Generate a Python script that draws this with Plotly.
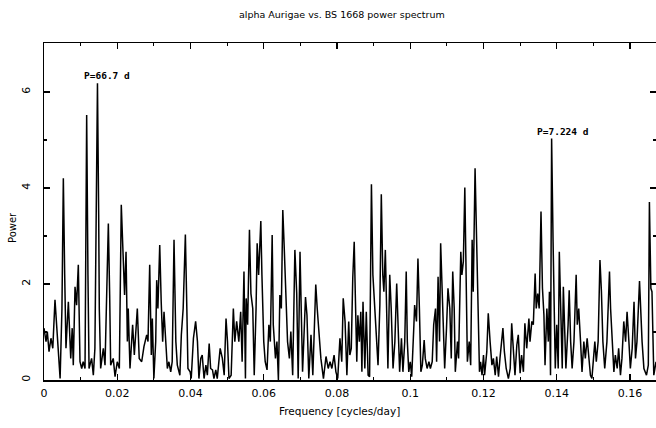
import plotly.graph_objects as go

# Frequency (cycles/day) and power values
freq = [
    0.0000, 0.00055, 0.0009, 0.00137, 0.0019, 0.0024, 0.0030, 0.0036, 0.0044, 0.0049,
    0.00528, 0.00565, 0.0060, 0.00665, 0.0073, 0.0077, 0.0080, 0.00847, 0.0089, 0.00937,
    0.00983, 0.0103, 0.0107, 0.0112, 0.01165, 0.0120, 0.0123, 0.0130, 0.01347, 0.0139,
    0.0146, 0.01493, 0.0151, 0.01547, 0.0162, 0.01666, 0.01757, 0.01793, 0.0182, 0.0189,
    0.0194, 0.0200, 0.02057, 0.0211, 0.02166, 0.0220, 0.0224, 0.02276, 0.0230, 0.02348,
    0.0242, 0.02466, 0.02548, 0.0260, 0.02667, 0.0273,
    0.02804, 0.0284, 0.02886, 0.0293, 0.02958, 0.0300, 0.0305, 0.03077, 0.0311, 0.0316,
    0.0320, 0.0324, 0.03277, 0.0332, 0.03368, 0.0341, 0.0346, 0.0350, 0.0355, 0.0360,
    0.0364, 0.0371, 0.0375, 0.0380, 0.0386, 0.0390, 0.0393, 0.0399, 0.0402, 0.0408,
    0.0414, 0.0419, 0.0423, 0.0428, 0.0432, 0.0437, 0.0442, 0.0446, 0.0451, 0.0455,
    0.0460, 0.0464, 0.0469, 0.0473, 0.0481, 0.0487, 0.0492, 0.0497, 0.0501, 0.0505,
    0.0511, 0.0517, 0.0521, 0.0526, 0.0532, 0.0537, 0.0541, 0.0546, 0.0550,
    0.0552, 0.0556, 0.0561, 0.0565, 0.0570, 0.0574, 0.0579, 0.0582, 0.0586, 0.0592,
    0.0595, 0.0600, 0.0604, 0.0609, 0.0614, 0.0618, 0.0623, 0.0626, 0.0632, 0.0636,
    0.0640, 0.0644, 0.0648, 0.0652, 0.0656, 0.0661, 0.0665, 0.0670, 0.0674, 0.0679,
    0.0685, 0.0690, 0.0694, 0.0699, 0.0703, 0.0706, 0.0714, 0.0718, 0.0723, 0.0729,
    0.0734, 0.0742, 0.0746, 0.0752, 0.0756, 0.0763, 0.0770, 0.0776, 0.0781, 0.0786,
    0.0792, 0.0797, 0.0802, 0.0808, 0.0813, 0.0817, 0.0822, 0.0827, 0.0832,
    0.0835, 0.0839, 0.0843, 0.0847, 0.0850, 0.0854, 0.0857, 0.0861, 0.0865, 0.0868,
    0.0871, 0.0876, 0.0880, 0.0885, 0.0889, 0.0894, 0.0898, 0.0903, 0.0907, 0.0912,
    0.0917, 0.0921, 0.0925, 0.0928, 0.0932, 0.0936, 0.0939, 0.0944, 0.0948, 0.0953,
    0.0958, 0.0963, 0.0967, 0.0971, 0.0976, 0.0980, 0.0985, 0.0989, 0.0992, 0.0996,
    0.1000, 0.1004, 0.1010, 0.1012, 0.1017, 0.1021, 0.1025, 0.1029, 0.1033, 0.1038,
    0.1041, 0.1046, 0.1051, 0.1055, 0.1060, 0.1064, 0.1069, 0.1072, 0.1076, 0.1080,
    0.1083, 0.1087, 0.1090, 0.1094, 0.1099, 0.1103, 0.1108, 0.1112,
    0.1116, 0.1120, 0.1123, 0.1129, 0.1132, 0.1138, 0.1141, 0.1145, 0.1149, 0.1152,
    0.1156, 0.1161, 0.1165, 0.1169, 0.1172, 0.1177, 0.1181, 0.1184, 0.1189, 0.1192,
    0.1196, 0.1200, 0.1203, 0.1209, 0.1213, 0.1218, 0.1223, 0.1227, 0.1232, 0.1236,
    0.1241, 0.1245, 0.1253, 0.1257, 0.1262, 0.1268, 0.1273, 0.1277, 0.1282, 0.1286,
    0.1291, 0.1295, 0.1300, 0.1304, 0.1309, 0.1313, 0.1318, 0.1324, 0.1327, 0.1332,
    0.1336, 0.1341, 0.1344, 0.1348, 0.1352, 0.1357, 0.1361, 0.1365, 0.1368, 0.1373,
    0.1377, 0.1380, 0.1383, 0.1386, 0.1390,
    0.1393, 0.1396, 0.1400, 0.1404, 0.1407, 0.1411, 0.1415, 0.1418, 0.1422, 0.1425,
    0.1431, 0.1434, 0.1438, 0.1442, 0.1447, 0.1453, 0.1456, 0.1460, 0.1465, 0.1469,
    0.1474, 0.1478, 0.1483, 0.1487, 0.1492, 0.1496, 0.1504, 0.1508, 0.1513, 0.1518,
    0.1522, 0.1526, 0.1531, 0.1537, 0.1544, 0.1547, 0.1551, 0.1556, 0.1560, 0.1565,
    0.1569, 0.1574, 0.1578, 0.1583, 0.1588, 0.1592, 0.1597, 0.1601, 0.1606, 0.1611,
    0.1615, 0.1619, 0.1626, 0.1629, 0.1633, 0.1638, 0.1645, 0.1650, 0.1653, 0.1657,
    0.1660, 0.1665, 0.1671,
]

power = [
    1.08, 0.80, 1.01, 0.59, 0.87, 0.66, 1.67, 0.94, 0.03, 1.49,
    4.20, 2.19, 0.66, 1.63, 0.45, 1.08, 0.31, 1.94, 1.56, 2.40,
    0.38, 0.24, 0.38, 0.24, 5.52, 2.19, 0.24, 0.45, 0.10, 0.66,
    6.18, 3.44, 1.49, 0.24, 0.66, 0.31, 3.26, 1.77, 0.31, 0.45,
    0.07, 0.38, 0.24, 3.65, 2.60, 1.77, 2.67, 0.80, 1.49, 0.24,
    1.15, 0.52, 1.49, 0.45, 0.38, 0.70,
    0.94, 0.80, 2.40, 0.52, 1.28, 0.03, 0.80, 2.08, 1.49, 2.81,
    1.63, 0.80, 1.42, 0.80, 0.24, 0.38, 0.17, 0.38, 2.92, 0.80,
    0.31, 0.10, 0.94, 1.49, 3.03, 1.49, 0.24, 0.17, 0.03, 0.87,
    1.22, 0.80, 0.03, 0.45, 0.52, 0.03, 0.31, 0.10, 0.76, 0.24,
    0.21, 0.03, 0.21, 0.03, 0.66, 0.45, 0.10, 1.28, 0.80, 0.03,
    0.10, 1.49, 0.80, 1.22, 0.80, 1.42, 0.38, 2.26, 0.03,
    1.70, 1.15, 3.13, 1.80, 1.49, 0.10, 1.49, 2.85, 2.19, 3.31,
    2.19, 0.80, 0.38, 0.21, 1.15, 0.80, 3.02, 1.15, 0.45, 0.80,
    0.00, 1.77, 1.49, 3.54, 2.74, 1.49, 0.80, 0.45, 1.01, 0.10,
    2.71, 1.80, 0.03, 2.67, 1.49, 0.17, 1.73, 1.35, 0.03, 0.94,
    0.10, 1.99, 1.49, 0.80, 0.45, 0.03, 0.49, 0.24, 0.38, 0.24,
    0.52, 0.17, 0.03, 0.87, 0.38, 1.70, 1.22, 0.10, 1.22,
    0.52, 0.66, 2.12, 2.88, 1.77, 0.38, 1.35, 0.80, 1.42, 0.17,
    1.63, 0.24, 1.42, 0.10, 0.07, 4.08, 2.19, 1.49, 1.08, 0.31,
    1.56, 3.87, 2.19, 1.84, 2.71, 1.49, 0.24, 2.19, 1.49, 0.24,
    0.80, 2.01, 0.80, 0.17, 0.87, 0.17, 0.80, 2.26, 0.80, 0.17,
    0.38, 0.07, 1.15, 1.56, 1.22, 2.53, 1.49, 0.17, 0.31, 0.83,
    0.45, 0.24, 0.38, 0.24, 0.38, 1.15, 1.49, 0.38, 2.15, 0.80,
    2.85, 1.98, 1.49, 0.24, 1.08, 1.91, 1.49, 0.45,
    2.26, 1.49, 0.17, 0.80, 0.45, 2.67, 2.19, 2.47, 4.01, 2.53,
    0.38, 0.80, 0.31, 2.92, 1.84, 4.41, 2.88, 1.49, 0.17, 0.38,
    0.10, 0.52, 0.10, 0.59, 1.39, 0.80, 0.31, 0.45, 0.10, 0.49,
    0.07, 0.45, 1.08, 0.59, 0.24, 0.03, 0.24, 1.18, 0.45, 0.10,
    0.73, 0.94, 0.14, 0.52, 0.17, 1.18, 0.66, 1.28, 0.80, 1.22,
    1.15, 2.22, 1.49, 1.80, 1.49, 3.51, 1.91, 1.35, 0.31, 1.49,
    0.80, 1.84, 0.10, 5.03, 2.88,
    1.49, 0.24, 1.15, 0.24, 2.67, 1.49, 0.24, 1.94, 0.80, 0.24,
    1.15, 1.87, 0.80, 0.24, 0.80, 2.19, 1.15, 1.49, 0.80, 0.17,
    0.80, 0.45, 0.87, 0.45, 0.10, 0.03, 0.80, 0.38, 0.80, 2.50,
    1.84, 0.80, 0.24, 0.80, 2.26, 1.49, 0.80, 0.17, 0.52, 0.24,
    0.66, 0.10, 0.45, 1.22, 0.80, 1.42, 0.80, 0.24, 0.66, 1.63,
    0.45, 0.80, 2.06, 1.49, 0.80, 0.24, 0.10, 0.31, 3.71, 1.91,
    1.84, 0.10, 0.38,
]

peak_labels = ["P=66.7 d", "P=7.224 d"]
peak_label_x = [0.0172, 0.1417]
peak_label_y = [6.35, 5.17]

x_tick_vals = [0, 0.02, 0.04, 0.06, 0.08, 0.1, 0.12, 0.14, 0.16]
x_tick_text = ["0", "0.02", "0.04", "0.06", "0.08", "0.1", "0.12", "0.14", "0.16"]
y_tick_vals = [0, 2, 4, 6]
y_tick_text = ["0", "2", "4", "6"]

FONT = "DejaVu Sans"
W, H = 656, 428
L, R, T, B = 44, 0, 43, 48
PW, PH = W - L - R, H - T - B


def px_x(p):
    return (p - L) / PW


def px_y(p):
    return (H - B - p) / PH


fig = go.Figure()
fig.add_trace(go.Scatter(
    x=freq, y=power, mode="lines",
    line=dict(color="black", width=1.5),
    showlegend=False, hoverinfo="skip",
))

for txt, lx, ly in zip(peak_labels, peak_label_x, peak_label_y):
    fig.add_annotation(
        x=lx, y=ly, xref="x", yref="y", text="<b>" + txt + "</b>",
        showarrow=False, font=dict(family="DejaVu Sans Mono", size=9.5, color="black"),
        xanchor="center", yanchor="middle",
    )

# Titles placed as text annotations
fig.add_annotation(
    x=px_x(342), y=px_y(14), xref="paper", yref="paper",
    text="alpha Aurigae vs. BS 1668 power spectrum", showarrow=False,
    font=dict(family=FONT, size=9.5, color="black"), xanchor="center", yanchor="middle",
)
fig.add_annotation(
    x=px_x(339), y=px_y(411), xref="paper", yref="paper",
    text="Frequency [cycles/day]", showarrow=False,
    font=dict(family=FONT, size=10.5, color="black"), xanchor="center", yanchor="middle",
)
fig.add_annotation(
    x=px_x(12), y=px_y(228), xref="paper", yref="paper",
    text="Power", showarrow=False, textangle=-90,
    font=dict(family=FONT, size=10, color="black"), xanchor="center", yanchor="middle",
)

fig.update_layout(
    width=W, height=H,
    margin=dict(l=L, r=R, t=T, b=B, autoexpand=False),
    paper_bgcolor="white", plot_bgcolor="white",
    font=dict(family=FONT, color="black", size=11),
    hovermode=False,
    xaxis=dict(
        range=[0, 0.1671], showgrid=False, zeroline=False, automargin=False,
        showline=True, linecolor="black", linewidth=1.5, mirror="ticks",
        ticks="inside", ticklen=6, tickwidth=1.2, tickcolor="black",
        tickvals=x_tick_vals, ticktext=x_tick_text,
        tickfont=dict(family=FONT, size=11), ticklabelstandoff=2,
        minor=dict(dtick=0.01, tick0=0, ticks="inside", ticklen=3, tickcolor="black"),
    ),
    yaxis=dict(
        range=[0, 7.02], showgrid=False, zeroline=False, automargin=False,
        showline=True, linecolor="black", linewidth=1.5, mirror="ticks",
        ticks="inside", ticklen=6, tickwidth=1.2, tickcolor="black",
        tickvals=y_tick_vals, ticktext=y_tick_text, tickangle=-90,
        tickfont=dict(family=FONT, size=11), ticklabelstandoff=8,
        minor=dict(dtick=1, tick0=0, ticks="inside", ticklen=3, tickcolor="black"),
    ),
)

# Remove the default page margin so the 656x428 figure fills the window exactly
fig.write_html(
    "out.html",
    config={"displayModeBar": False, "staticPlot": True},
    post_script="document.body.style.margin='0';document.body.style.overflow='hidden';",
)
